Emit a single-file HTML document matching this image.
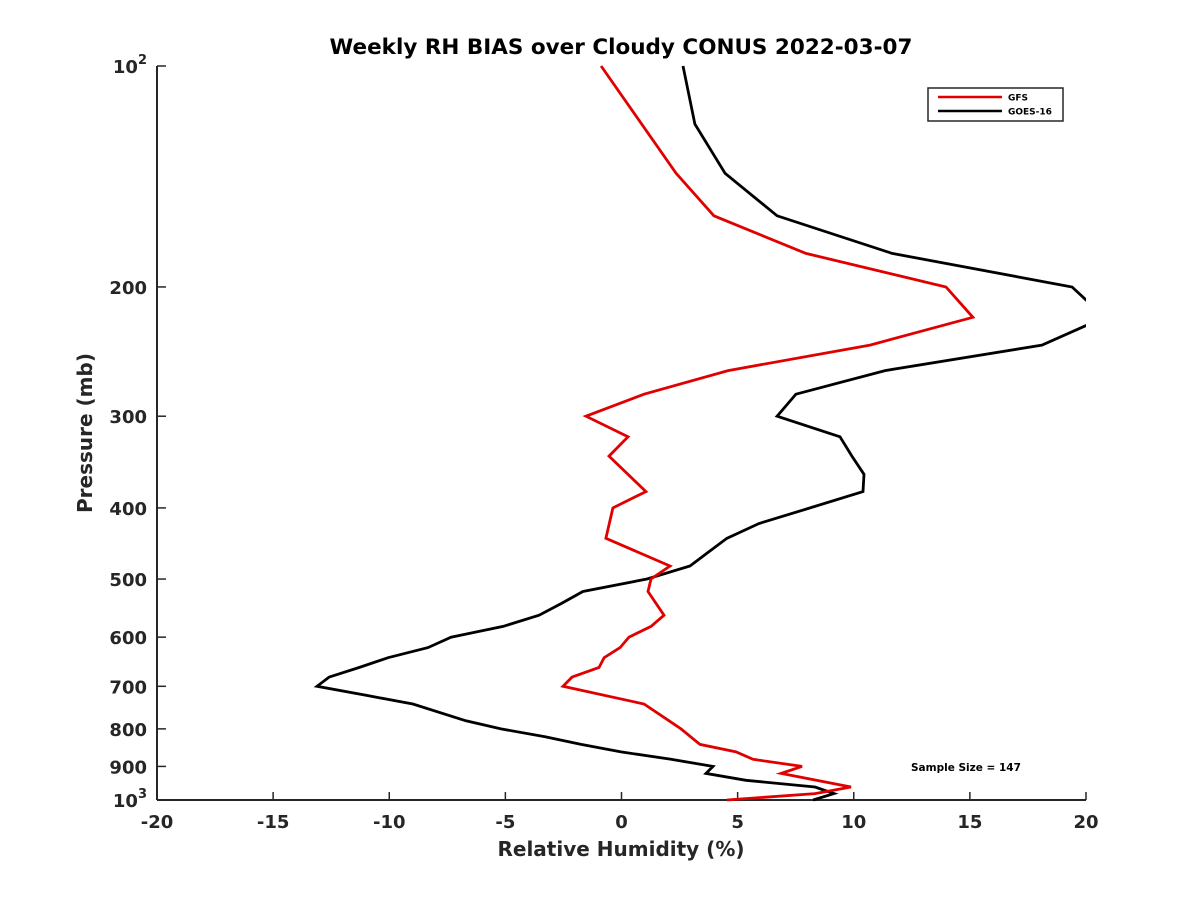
<!DOCTYPE html>
<html><head><meta charset="utf-8"><style>
html,body{margin:0;padding:0;background:#fff;}
svg{display:block;font-family:"DejaVu Sans","Liberation Sans",sans-serif;}
</style></head><body>
<svg id="chart" width="1200" height="900" viewBox="0 0 1200 900">
<rect width="1200" height="900" fill="#fff"/>
<defs><clipPath id="plotclip"><rect x="157" y="60" width="929" height="742"/></clipPath></defs>
<text x="621" y="54" text-anchor="middle" font-size="21.5" font-weight="bold" fill="#000">Weekly RH BIAS over Cloudy CONUS 2022-03-07</text>
<g id="axes"></g>
<g id="series" clip-path="url(#plotclip)"></g>
<text x="621" y="856" text-anchor="middle" font-size="20" font-weight="bold" fill="#262626">Relative Humidity (%)</text>
<text transform="translate(92,433) rotate(-90)" text-anchor="middle" font-size="20" font-weight="bold" fill="#262626">Pressure (mb)</text>
<g>
<rect x="928" y="88" width="135" height="33" fill="#fff" stroke="#262626" stroke-width="1.5"/>
<line x1="938" y1="97" x2="1002" y2="97" stroke="#e00000" stroke-width="2.5"/>
<text x="1008" y="100.5" font-size="9" font-weight="bold" fill="#000">GFS</text>
<line x1="938" y1="111" x2="1002" y2="111" stroke="#000" stroke-width="2.5"/>
<text x="1008" y="114.5" font-size="9" font-weight="bold" fill="#000">GOES-16</text>
</g>
<text x="911" y="771" font-size="10.5" font-weight="bold" fill="#000">Sample Size = 147</text>
</svg>
<script>
const xTicks = [-20,-15,-10,-5,0,5,10,15,20];
const yTicks = [100,200,300,400,500,600,700,800,900,1000];
const gfsPressure = [100,120,140,160,180,200,220,240,260,280,300,320,340,380,400,440,480,500,520,560,580,600,620,640,660,680,700,740,780,800,840,860,880,900,920,960,980,1000];
const gfsValues = [-0.88,0.87,2.35,3.98,7.94,13.97,15.13,10.70,4.59,0.97,-1.53,0.28,-0.54,1.05,-0.37,-0.67,2.09,1.27,1.14,1.83,1.27,0.32,-0.06,-0.75,-0.97,-2.13,-2.52,0.97,2.05,2.56,3.38,4.93,5.66,7.77,6.87,9.88,8.33,4.54];
const goesPressure = [100,120,140,160,180,200,220,240,260,280,300,320,340,360,380,400,420,440,460,480,500,520,540,560,580,600,620,640,660,680,700,720,740,780,800,820,840,860,880,900,920,940,960,980,1000];
const goesValues = [2.65,3.16,4.46,6.70,11.65,19.40,20.8,18.1,11.35,7.51,6.70,9.41,9.92,10.44,10.40,8.12,5.92,4.54,3.72,2.95,1.10,-1.66,-2.6,-3.55,-5.10,-7.34,-8.33,-10.05,-11.3,-12.59,-13.11,-11.0,-8.98,-6.70,-5.19,-3.29,-1.74,-0.02,2.13,3.94,3.64,5.36,8.33,9.15,8.25];

const X0=157,X1=1086,Y0=66,Y1=800,XMIN=-20,XMAX=20,PMIN=100,PMAX=1000;
function xScale(v){return X0+(v-XMIN)/(XMAX-XMIN)*(X1-X0);}
function yScale(p){return Y0+(Math.log10(p)-Math.log10(PMIN))/(Math.log10(PMAX)-Math.log10(PMIN))*(Y1-Y0);}
const NS="http://www.w3.org/2000/svg";
const axes=document.getElementById('axes');
const series=document.getElementById('series');
function mk(tag,attrs,parent){const e=document.createElementNS(NS,tag);for(const k in attrs)e.setAttribute(k,attrs[k]);parent.appendChild(e);return e;}

const xAxis=mk('line',{x1:X0,y1:Y1,x2:X1,y2:Y1,stroke:'#262626','stroke-width':2},axes);


const yAxis=mk('line',{x1:X0,y1:Y0,x2:X0,y2:Y1,stroke:'#262626','stroke-width':2},axes);



xTicks.forEach(v=>{
  const x=xScale(v);
  const t=mk('line',{x1:x,y1:Y1,x2:x,y2:Y1-8,stroke:'#262626','stroke-width':1.5},axes);
  
  
  const l=mk('text',{x:x,y:Y1+28,'text-anchor':'middle','font-size':18,'font-weight':'bold',fill:'#262626'},axes);
  l.textContent=String(v);
  
  
});
yTicks.forEach(p=>{
  const y=yScale(p);
  const t=mk('line',{x1:X0,y1:y,x2:X0+9,y2:y,stroke:'#262626','stroke-width':1.5},axes);
  
  
  const l=mk('text',{x:X0-10,y:y+7,'text-anchor':'end','font-size':18,'font-weight':'bold',fill:'#262626'},axes);
  if(p===100||p===1000){
    l.textContent='10';
    const s=document.createElementNS(NS,'tspan');
    s.setAttribute('dy','-9');s.setAttribute('font-size','13');
    s.textContent=p===100?'2':'3';
    l.appendChild(s);
  } else l.textContent=String(p);
  
  
});

function drawLine(ps,vs,color,name){
  const d=ps.map((p,i)=>(i?'L':'M')+xScale(vs[i]).toFixed(1)+','+yScale(p).toFixed(1)).join(' ');
  const path=mk('path',{d:d,fill:'none',stroke:color,'stroke-width':2.8,'stroke-linejoin':'miter'},series);
  
  
}
drawLine(goesPressure,goesValues,'#000','goes-16-line');
drawLine(gfsPressure,gfsValues,'#e00000','gfs-line');
</script>
</body></html>
